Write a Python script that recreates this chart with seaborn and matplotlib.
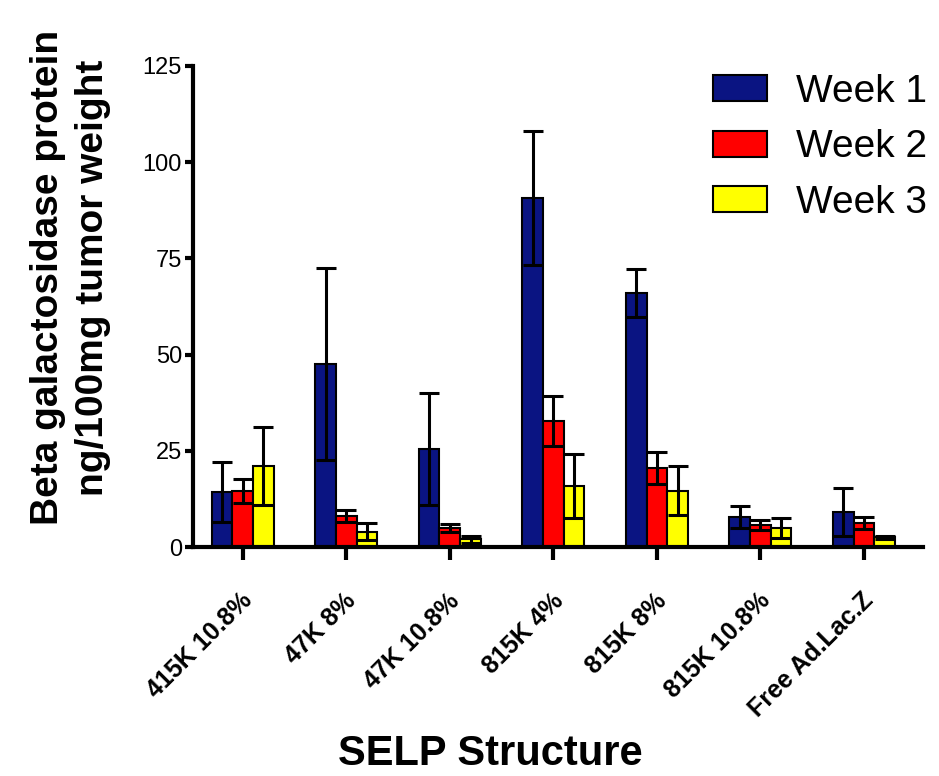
import numpy as np
import pandas as pd
import seaborn as sns
import matplotlib.pyplot as plt
import matplotlib.transforms as mtransforms

structures = ["415K 10.8%", "47K 8%", "47K 10.8%", "815K 4%",
              "815K 8%", "815K 10.8%", "Free Ad.Lac.Z"]
weeks = ["Week 1", "Week 2", "Week 3"]

week1 = [14.3, 47.5, 25.4, 90.7, 66.0, 7.8, 9.1]
week2 = [14.6, 8.0, 4.9, 32.7, 20.5, 5.7, 6.2]
week3 = [21.1, 4.0, 2.0, 15.9, 14.6, 4.9, 2.5]

week1_err = [7.8, 25.0, 14.6, 17.3, 6.2, 2.8, 6.2]
week2_err = [3.1, 1.6, 1.1, 6.5, 4.2, 1.3, 1.5]
week3_err = [10.1, 2.2, 0.9, 8.3, 6.4, 2.6, 0.4]

means = [week1, week2, week3]
errs = [week1_err, week2_err, week3_err]

df = pd.DataFrame({
    "structure": structures * 3,
    "week": [w for w in weeks for _ in structures],
    "value": week1 + week2 + week3,
})

sns.set_theme(style="white")
plt.rcParams["font.family"] = ["Liberation Sans", "DejaVu Sans"]
plt.rcParams["text.color"] = "black"
plt.rcParams["axes.labelcolor"] = "black"

fig = plt.figure(figsize=(9.39, 7.76), dpi=100)
ax = fig.add_axes([193 / 939, 1 - 547 / 776, 730 / 939, 481 / 776])

palette = ["#0a1482", "#ff0000", "#ffff00"]
sns.barplot(data=df, x="structure", y="value", hue="week", palette=palette,
            width=0.6, edgecolor="black", linewidth=1.5, errorbar=None,
            saturation=1, ax=ax)

# error bars (mean +/- err)
for cont, m, e in zip(ax.containers, means, errs):
    xs = [b.get_x() + b.get_width() / 2 for b in cont]
    ax.errorbar(xs, m, yerr=e, fmt="none", ecolor="black",
                elinewidth=2.2, capsize=7, capthick=2.2, zorder=5)

ax.set_ylim(0, 125)
ax.set_xlim(-0.48, 6.57)
ax.set_yticks([0, 25, 50, 75, 100, 125])

sns.despine(ax=ax)
for s in ["left", "bottom"]:
    ax.spines[s].set_linewidth(3)
    ax.spines[s].set_color("black")

ax.tick_params(axis="y", direction="out", length=6, width=3, labelsize=17,
               left=True, pad=2, colors="black")
ax.tick_params(axis="x", direction="out", length=9, width=3, labelsize=18,
               bottom=True, pad=27, colors="black")
plt.setp(ax.get_xticklabels(), rotation=45, ha="right", va="center",
         rotation_mode="anchor", fontweight="bold")
offset = mtransforms.ScaledTranslation(6 / 100, 0, fig.dpi_scale_trans)
for lbl in ax.get_xticklabels():
    lbl.set_transform(lbl.get_transform() + offset)

ax.set_xlabel("SELP Structure", fontsize=30, fontweight="bold", va="center")
ax.xaxis.set_label_coords(0.407, -0.43)
ax.set_ylabel("Beta galactosidase protein\nng/100mg tumor weight",
              fontsize=28, fontweight="bold", va="center", linespacing=1.3)
ax.yaxis.set_label_coords(-0.168, 0.56)

handles, labels = ax.get_legend_handles_labels()
ax.legend(handles, labels, loc="upper left",
          bbox_to_anchor=(705 / 939, 1 - 66 / 776),
          bbox_transform=fig.transFigure, frameon=False, fontsize=28,
          handlelength=1.4, handleheight=0.65, handletextpad=0.75,
          labelspacing=0.5, borderaxespad=0, borderpad=0.2)

fig.savefig("out.png", dpi=100)
